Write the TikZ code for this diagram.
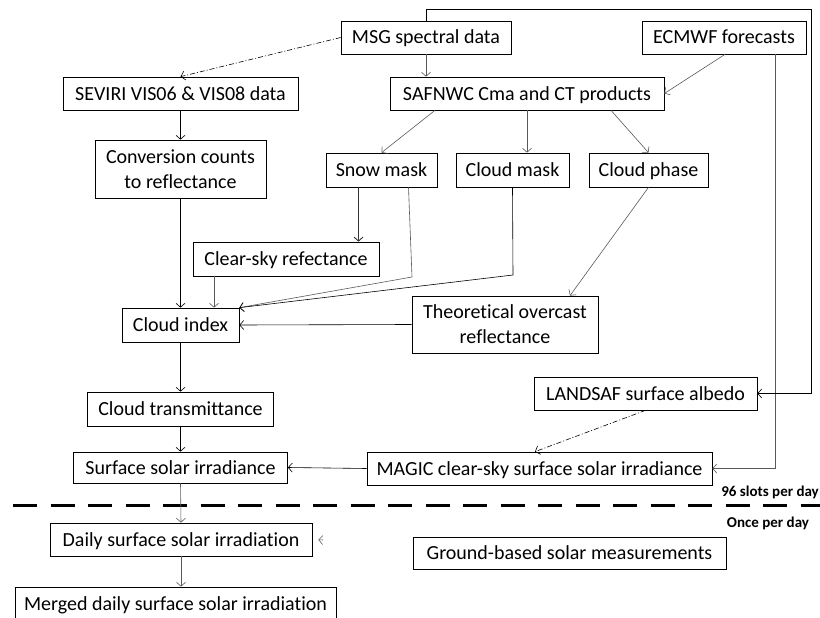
\documentclass[tikz,border=0pt]{standalone}
\usepackage{fontspec}
\setmainfont{Carlito}[Ligatures=NoCommon]
\usetikzlibrary{arrows.meta}

\begin{document}
\begin{tikzpicture}[x=1pt, y=-1pt,
        blk/.style={draw, line width=0.7pt, inner sep=0pt, align=center, font=\fontsize{20}{25}\selectfont},
        one/.style={blk, text height=16pt, text depth=3pt},
        con/.style={-{Straight Barb[length=4pt,width=9pt]}, line width=0.6pt},
        thin/.style={con, black!65},
        dashdot/.style={con, dash pattern=on 5pt off 2pt on 1pt off 2pt}]
        \useasboundingbox (0,0) rectangle (820,618);
        % input data
        \node[one, minimum width=170, minimum height=33] (msg) at (426,37.5) {MSG spectral data};
        \node[one, minimum width=164, minimum height=33] (ecmwf) at (724,37.5) {ECMWF forecasts};
        \node[one, minimum width=235, minimum height=33] (seviri) at (180.5,93.5) {SEVIRI VIS06 \& VIS08 data};
        \node[one, minimum width=274, minimum height=33] (safnwc) at (527,93.5) {SAFNWC Cma and CT products};
        % products
        \node[blk, minimum width=171, minimum height=58] (conv) at (180.5,169) {Conversion counts\\to reflectance};
        \node[one, minimum width=111, minimum height=34] (snow) at (381.5,170) {Snow mask};
        \node[one, minimum width=113, minimum height=34] (cmask) at (512.5,170) {Cloud mask};
        \node[one, minimum width=119, minimum height=34] (cphase) at (648.5,170) {Cloud phase};
        \node[one, minimum width=186, minimum height=34] (clear) at (286,259) {Clear-sky refectance};
        \node[one, minimum width=117, minimum height=34] (cindex) at (180.5,325) {Cloud index};
        \node[blk, minimum width=186, minimum height=57] (theo) at (505,324.5) {Theoretical overcast\\reflectance};
        \node[one, minimum width=223, minimum height=33] (landsaf) at (645.5,393.5) {LANDSAF surface albedo};
        \node[one, minimum width=186, minimum height=34] (ctrans) at (180.5,409) {Cloud transmittance};
        \node[one, minimum width=214, minimum height=31] (ssi) at (180.5,467.5) {Surface solar irradiance};
        \node[one, minimum width=345, minimum height=33] (magic) at (539.5,468.5) {MAGIC clear-sky surface solar irradiance};
        % once per day
        \node[one, minimum width=262, minimum height=33] (daily) at (181,539.5) {Daily surface solar irradiation};
        \node[one, minimum width=313, minimum height=32] (ground) at (569.5,553) {Ground-based solar measurements};
        \node[one, minimum width=321, minimum height=33] (merged) at (175.5,603.5) {Merged daily surface solar irradiation};

        \draw[line width=3pt, dash pattern=on 24pt off 13.5pt] (13,505) -- (820,505);
        \node[anchor=south east, inner sep=1pt, font=\fontsize{15}{18}\selectfont\bfseries] (slots) at (820,500) {96 slots per day};
        \node[inner sep=1pt, font=\fontsize{15}{18}\selectfont\bfseries] (once) at (768,523) {Once per day};

        % connectors
        \coordinate (loop) at (811,9);
        \coordinate (snowbend) at (412,277);
        \coordinate (cmbend) at (513,275);
        \coordinate (stub) at (323,540);
        \draw[dashdot] (msg.west) -- (seviri.north);
        \draw[thin] (msg.south) -- (msg.south |- safnwc.north);
        \draw[thin] ([xshift=1]ecmwf.south) -- (safnwc.east);
        \draw[con] (seviri.south) -- (conv.north);
        \draw[thin] ([xshift=-92]safnwc.south) -- (snow.north);
        \draw[thin] (safnwc.south) -- (safnwc.south |- cmask.north);
        \draw[thin] ([xshift=84]safnwc.south) -- (cphase.north);
        \draw[con, line width=0.9pt, black!80] ([xshift=-23]snow.south) -- ([xshift=-23]snow.south |- clear.north);
        \draw[thin] ([xshift=27]snow.south) -- (snowbend) -- (cindex.north east);
        \draw[con] (cmask.south) -- (cmbend) -- (cindex.north east);
        \draw[thin] (cphase.south) -- ([xshift=65]theo.north);
        \draw[con] (theo.west) -- (cindex.east);
        \draw[con] (conv.south) -- (cindex.north);
        \draw[thin] ([xshift=-72]clear.south) -- ([xshift=-72]clear.south |- cindex.north);
        \draw[con] (cindex.south) -- (ctrans.north);
        \draw[con] (ctrans.south) -- (ssi.north);
        \draw[con] (magic.west) -- (ssi.east);
        \draw[dashdot] (landsaf.south) -- ([xshift=-4.5]magic.north);
        \draw[thin] ([xshift=51]ecmwf.south) |- (magic.east);
        \draw[con] (msg.north) |- (loop) |- (landsaf.east);
        \draw[thin] (ssi.south) -- (daily.north);
        \draw[thin] (daily.south) -- (daily.south |- merged.north);
        \draw[thin, shorten >=6pt] (stub) -- (daily.east);
\end{tikzpicture}
\end{document}
